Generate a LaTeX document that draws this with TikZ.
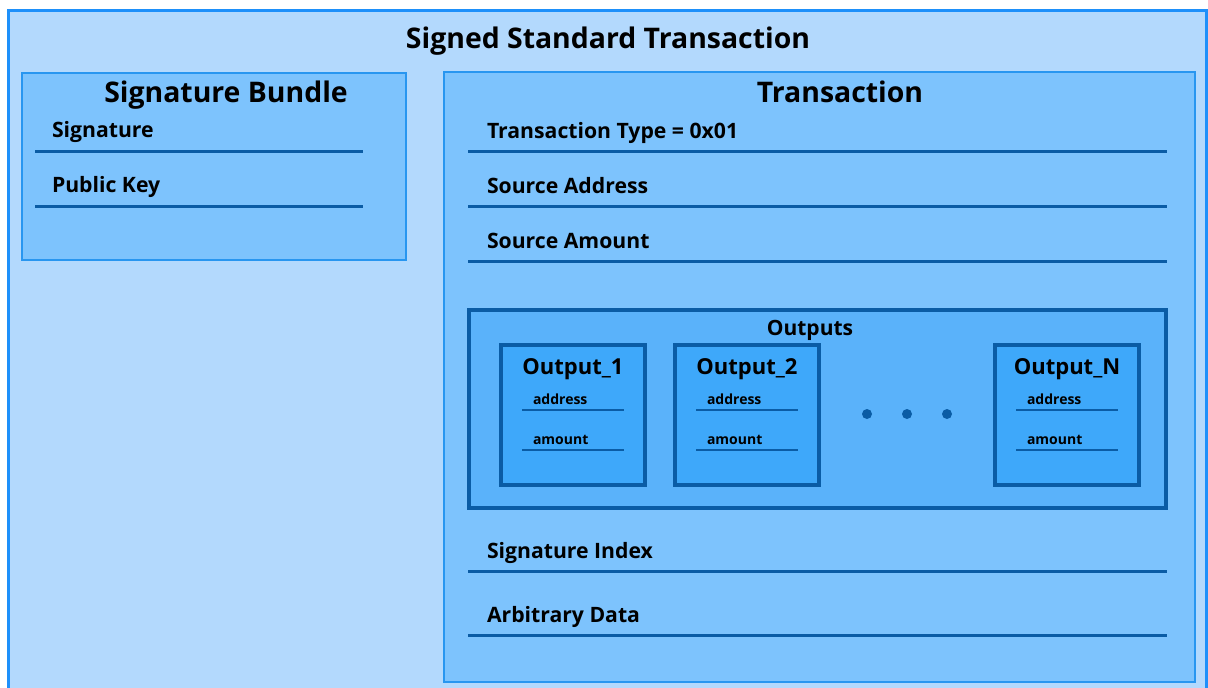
\documentclass[tikz,border=0pt]{standalone}
\usepackage{fontspec}
\setmainfont{Open Sans}
\usetikzlibrary{positioning}
\definecolor{outerFill}{RGB}{179,217,253}
\definecolor{outerLine}{RGB}{30,144,250}
\definecolor{midFill}{RGB}{125,195,253}
\definecolor{midLine}{RGB}{40,150,240}
\definecolor{outsFill}{RGB}{90,178,250}
\definecolor{innerFill}{RGB}{62,168,250}
\definecolor{darkLine}{RGB}{10,92,165}
\tikzset{
  every picture/.style={font=\bfseries},
  every node/.style={inner sep=0pt, outer sep=0pt}}

\begin{document}
\begin{tikzpicture}[x=1pt, y=-1pt,
    box/.style={rectangle, anchor=north west},
    outerbox/.style={box, draw=outerLine, fill=outerFill, line width=3pt},
    midbox/.style={box, draw=midLine, fill=midFill, line width=2.5pt},
    outsbox/.style={box, draw=darkLine, fill=outsFill, line width=3.5pt},
    outbox/.style={box, draw=darkLine, fill=innerFill, line width=3.5pt,
      minimum width=144pt, minimum height=140pt},
    heading/.style={font=\bfseries\fontsize{28.4}{30}\selectfont, anchor=base},
    row/.style={font=\bfseries\fontsize{21.2}{23}\selectfont, anchor=base west},
    subhead/.style={font=\bfseries\fontsize{21}{23}\selectfont, anchor=base},
    outhead/.style={font=\bfseries\fontsize{22}{24}\selectfont, anchor=base},
    field/.style={font=\bfseries\fontsize{14}{16}\selectfont, anchor=base west},
    sep/.style={draw=darkLine, line width=3pt},
    dot/.style={circle, fill=darkLine, minimum size=10pt}]

    \useasboundingbox (0,0) rectangle (1208,688);
    \fill[white] (0,0) rectangle (1208,688);

    % boxes
    \node[outerbox, minimum width=1198pt, minimum height=690pt] (signed) at (8,10) {};
    \node[midbox, minimum width=384pt, minimum height=187pt] (bundle) at (22,73) {};
    \node[midbox, minimum width=751pt, minimum height=610pt] (trans) at (444,72) {};
    \node[outsbox, minimum width=697pt, minimum height=198pt] (outs) at (469,310) {};

    % headings
    \node[heading] (signedTitle) at (608,48) {Signed Standard Transaction};
    \node[heading] (bundleTitle) at (226,102) {Signature Bundle};
    \node[heading] (transTitle) at (840,102) {Transaction};
    \node[subhead] (outsTitle) at (810,335) {Outputs};

    % signature bundle fields
    \foreach \txt/\y [count=\i] in {Signature/151, Public Key/206} {
      \node[row] (sig-\i) at (52,\y-14) {\txt};
      \coordinate (sigL-\i) at (35,\y);
      \coordinate (sigR-\i) at (363,\y);
      \draw[sep] (sigL-\i) -- (sigR-\i);
    }

    % transaction fields
    \foreach \txt/\y [count=\i] in {Transaction Type = 0x01/151, Source Address/206,
        Source Amount/261, Signature Index/571, Arbitrary Data/635} {
      \node[row] (tr-\i) at (487,\y-12.5) {\txt};
      \coordinate (trL-\i) at (468,\y);
      \coordinate (trR-\i) at (1167,\y);
      \draw[sep] (trL-\i) -- (trR-\i);
    }

    % outputs
    \foreach \nm/\x in {1/501, 2/675, N/995} {
      \node[outbox] (out-\nm) at (\x,345) {};
      \node[outhead] (outTitle-\nm) at (\x+72,374) {Output\_\nm};
      \node[field] (addr-\nm) at (\x+32,404) {address};
      \node[field] (amt-\nm) at (\x+32,444) {amount};
      \coordinate (addrL-\nm) at (\x+21,410);
      \coordinate (addrR-\nm) at (\x+123,410);
      \coordinate (amtL-\nm) at (\x+21,450);
      \coordinate (amtR-\nm) at (\x+123,450);
      \draw[sep, line width=2.5pt] (addrL-\nm) -- (addrR-\nm);
      \draw[sep, line width=2.5pt] (amtL-\nm) -- (amtR-\nm);
    }

    % ellipsis
    \node[dot] (dot1) at (867,414) {};
    \node[dot, right=30pt of dot1] (dot2) {};
    \node[dot, right=30pt of dot2] (dot3) {};
\end{tikzpicture}
\end{document}
